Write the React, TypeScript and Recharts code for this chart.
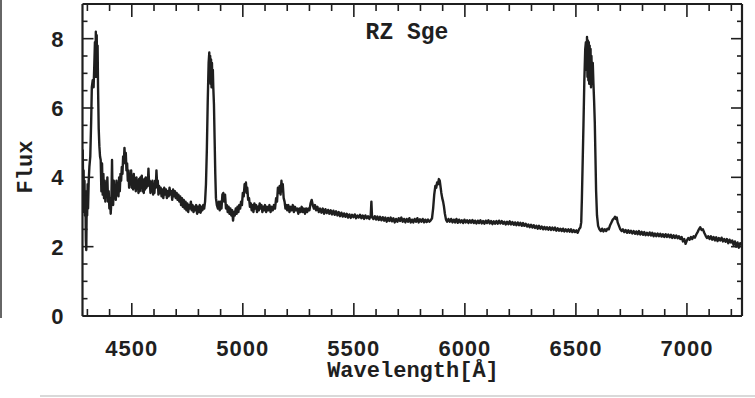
import { Line, LineChart, XAxis, YAxis } from 'recharts'

// RZ Sge optical spectrum, flux vs wavelength [Å]
const hGamma: [number, number][] = [
  [4279, 4.8], [4281, 3.7], [4283, 4.2], [4285, 3.0], [4287, 3.9], [4289, 2.9], [4291, 3.6], [4293, 2.2],
  [4295, 1.9], [4297, 3.2], [4299, 2.9], [4301, 3.8], [4303, 3.1], [4306, 3.9], [4309, 4.3], [4313, 4.6],
  [4317, 5.6], [4320, 6.6], [4324, 6.8], [4328, 6.6], [4331, 7.2], [4334, 7.9], [4336, 6.9], [4338, 8.2],
  [4340, 7.1], [4342, 8.1], [4344, 6.9], [4346, 7.8], [4348, 6.6], [4351, 5.4], [4354, 4.9], [4357, 4.6],
]

const blueContinuum: [number, number][] = [
  [4360, 4.5], [4363, 3.6], [4366, 4.4], [4369, 3.5], [4372, 4.1], [4375, 3.4], [4378, 3.9], [4381, 3.3],
  [4384, 3.8], [4387, 3.5], [4390, 4.0], [4393, 3.3], [4396, 3.6], [4399, 3.1], [4402, 3.4], [4405, 2.95],
  [4408, 3.3], [4411, 4.5], [4413, 3.6], [4416, 3.2], [4419, 3.9], [4422, 3.4], [4425, 3.7], [4428, 3.35],
  [4431, 3.9], [4434, 3.5], [4437, 3.8], [4440, 3.45], [4443, 4.0], [4446, 3.6], [4449, 4.1], [4452, 3.9],
  [4455, 4.3], [4458, 4.1], [4461, 4.6], [4464, 4.4], [4467, 4.85], [4470, 4.5], [4473, 4.7], [4476, 4.2],
  [4479, 4.4], [4482, 3.9], [4485, 4.2], [4488, 3.7], [4491, 4.1], [4494, 3.8], [4497, 4.2], [4500, 3.7],
  [4503, 4.0], [4506, 3.65], [4509, 4.1], [4512, 3.7], [4515, 3.95], [4518, 3.6], [4521, 4.0], [4524, 3.7],
  [4527, 3.9], [4530, 3.55], [4533, 3.95], [4536, 3.6], [4539, 4.0], [4542, 3.7], [4545, 4.05], [4548, 3.6],
  [4551, 3.9], [4554, 3.55], [4557, 3.95], [4560, 3.65], [4563, 4.0], [4566, 3.7], [4569, 3.9], [4572, 3.75],
  [4575, 4.25], [4578, 3.8], [4581, 3.9], [4584, 3.55], [4587, 3.85], [4590, 3.6], [4593, 3.9], [4596, 3.5],
  [4599, 3.8], [4602, 3.55], [4605, 3.9], [4608, 3.7], [4611, 4.2], [4614, 3.8], [4617, 3.9], [4620, 3.5],
  [4623, 3.75], [4626, 3.55], [4630, 3.7], [4634, 3.45], [4638, 3.65], [4642, 3.4], [4646, 3.7], [4650, 3.5],
  [4654, 3.65], [4658, 3.4], [4662, 3.6], [4666, 3.45], [4670, 3.7], [4674, 3.5], [4678, 3.6], [4682, 3.35],
  [4686, 3.65], [4690, 3.45], [4694, 3.6], [4698, 3.4], [4702, 3.55], [4706, 3.35], [4710, 3.5], [4714, 3.3],
  [4718, 3.45], [4722, 3.2], [4726, 3.4], [4730, 3.15], [4734, 3.35], [4738, 3.1], [4742, 3.3], [4746, 3.05],
  [4750, 3.25], [4754, 3.0], [4758, 3.2], [4762, 3.1], [4766, 3.3], [4770, 3.05], [4774, 3.2], [4778, 3.0],
  [4782, 3.15], [4786, 3.05], [4790, 3.2], [4794, 2.95], [4798, 3.15], [4802, 3.0], [4806, 3.2], [4810, 2.98],
  [4814, 3.15], [4818, 3.05], [4822, 3.2], [4826, 3.1],
]

const hBeta: [number, number][] = [
  [4830, 3.3], [4834, 3.8], [4838, 4.8], [4842, 6.2], [4846, 7.3], [4849, 7.6], [4851, 6.8], [4853, 7.5],
  [4855, 6.7], [4857, 7.4], [4859, 6.6], [4861, 7.3], [4863, 6.7], [4865, 7.1], [4867, 6.6], [4870, 6.1],
  [4873, 5.1], [4876, 4.1], [4879, 3.4], [4883, 3.2],
]

const greenContinuum: [number, number][] = [
  [4888, 3.1], [4892, 3.3], [4896, 3.05], [4900, 3.3], [4904, 3.1], [4908, 3.5], [4912, 3.55], [4916, 3.3],
  [4920, 3.5], [4924, 3.1], [4928, 3.2], [4932, 3.0], [4936, 3.15], [4940, 2.95], [4944, 3.1], [4948, 2.9],
  [4952, 3.05], [4956, 2.75], [4960, 3.0], [4964, 2.9], [4968, 3.1], [4972, 2.95], [4976, 3.15], [4980, 3.0],
  [4984, 3.2], [4988, 3.1], [4992, 3.3], [4996, 3.2], [5000, 3.55], [5004, 3.45], [5008, 3.8], [5011, 3.6],
  [5014, 3.85], [5017, 3.55], [5020, 3.7], [5024, 3.35], [5028, 3.4], [5032, 3.15], [5036, 3.25], [5040, 3.05],
  [5044, 3.2], [5048, 3.0], [5052, 3.25], [5056, 3.1], [5060, 3.2], [5064, 3.0], [5068, 3.15], [5072, 3.05],
  [5076, 3.25], [5080, 3.1], [5084, 3.2], [5088, 3.0], [5092, 3.15], [5096, 3.05], [5100, 3.2], [5105, 3.0],
  [5110, 3.15], [5115, 3.05], [5120, 3.2], [5125, 3.0], [5130, 3.15], [5135, 3.05], [5140, 3.2], [5145, 3.1],
  [5150, 3.4], [5154, 3.3], [5158, 3.7], [5162, 3.55], [5166, 3.75], [5170, 3.5], [5174, 3.9], [5177, 3.6],
  [5180, 3.8], [5184, 3.4], [5188, 3.3], [5192, 3.1], [5196, 3.2], [5200, 3.05], [5205, 3.2], [5210, 3.0],
  [5215, 3.15], [5220, 3.05], [5225, 3.2], [5230, 3.0], [5235, 3.15], [5240, 3.05], [5245, 3.1], [5250, 2.95],
  [5255, 3.1], [5260, 3.0], [5265, 3.15], [5270, 3.0], [5275, 3.1], [5280, 2.95], [5285, 3.1], [5290, 3.0],
  [5295, 3.1], [5300, 3.05], [5305, 3.25], [5310, 3.35], [5315, 3.2], [5320, 3.1], [5325, 3.2],
]

const yellowContinuum: [number, number][] = [
  [5330, 3.05], [5336, 3.15], [5342, 3.0], [5348, 3.1], [5354, 2.98], [5360, 3.1], [5366, 2.95], [5372, 3.08],
  [5378, 2.97], [5384, 3.06], [5390, 2.95], [5396, 3.05], [5402, 2.93], [5408, 3.04], [5414, 2.92], [5420, 3.02],
  [5426, 2.9], [5432, 3.0], [5438, 2.88], [5444, 2.98], [5450, 2.87], [5456, 2.96], [5462, 2.86], [5468, 2.95],
  [5474, 2.84], [5480, 2.93], [5486, 2.83], [5492, 2.92], [5498, 2.85], [5504, 2.93], [5510, 2.82], [5516, 2.9],
  [5522, 2.84], [5528, 2.92], [5534, 2.82], [5540, 2.9], [5546, 2.8], [5552, 2.9], [5558, 2.82], [5564, 2.88],
  [5570, 2.8], [5576, 2.9], [5579, 3.3], [5582, 2.85], [5588, 2.8], [5594, 2.88], [5600, 2.78], [5606, 2.87],
  [5612, 2.77], [5618, 2.86], [5624, 2.76], [5630, 2.85], [5636, 2.75], [5642, 2.84], [5648, 2.72], [5654, 2.83],
  [5660, 2.74], [5666, 2.84], [5672, 2.73], [5678, 2.82], [5684, 2.7], [5690, 2.8], [5696, 2.72], [5702, 2.82],
  [5708, 2.74], [5714, 2.84], [5720, 2.72], [5726, 2.8], [5732, 2.7], [5738, 2.8], [5744, 2.72], [5750, 2.82],
  [5756, 2.7], [5762, 2.78], [5768, 2.7], [5774, 2.8], [5780, 2.72], [5786, 2.82], [5792, 2.7], [5798, 2.79],
  [5804, 2.72], [5810, 2.8], [5816, 2.7], [5822, 2.78], [5828, 2.71], [5834, 2.78], [5840, 2.72], [5846, 2.76],
]

const heI5876: [number, number][] = [
  [5852, 2.82], [5857, 3.1], [5862, 3.5], [5867, 3.75], [5871, 3.7], [5875, 3.85], [5879, 3.8], [5883, 3.95],
  [5887, 3.9], [5890, 3.75], [5894, 3.55], [5898, 3.4], [5902, 3.3], [5906, 3.15], [5910, 2.95], [5915, 2.78],
  [5920, 2.72],
]

const redContinuum: [number, number][] = [
  [5926, 2.8], [5932, 2.72], [5938, 2.8], [5944, 2.7], [5950, 2.78], [5956, 2.7], [5962, 2.8], [5968, 2.69],
  [5974, 2.78], [5980, 2.7], [5986, 2.76], [5992, 2.68], [5998, 2.78], [6004, 2.7], [6010, 2.76], [6016, 2.68],
  [6022, 2.76], [6028, 2.69], [6034, 2.77], [6040, 2.68], [6046, 2.75], [6052, 2.67], [6058, 2.75], [6064, 2.68],
  [6070, 2.76], [6076, 2.67], [6082, 2.74], [6088, 2.66], [6094, 2.75], [6100, 2.68], [6106, 2.76], [6112, 2.67],
  [6118, 2.74], [6124, 2.65], [6130, 2.73], [6136, 2.66], [6142, 2.74], [6148, 2.66], [6154, 2.75], [6160, 2.67],
  [6166, 2.74], [6172, 2.66], [6178, 2.72], [6184, 2.64], [6190, 2.72], [6196, 2.65], [6202, 2.73], [6208, 2.64],
  [6214, 2.71], [6220, 2.63], [6226, 2.7], [6232, 2.62], [6238, 2.7], [6244, 2.62], [6250, 2.69], [6256, 2.6],
  [6262, 2.68], [6268, 2.6], [6274, 2.66], [6280, 2.58], [6286, 2.64], [6292, 2.56], [6298, 2.63], [6304, 2.55],
  [6310, 2.62], [6316, 2.54], [6322, 2.6], [6328, 2.52], [6334, 2.6], [6340, 2.52], [6346, 2.58], [6352, 2.5],
  [6358, 2.57], [6364, 2.5], [6370, 2.56], [6376, 2.49], [6382, 2.56], [6388, 2.48], [6394, 2.55], [6400, 2.48],
  [6406, 2.55], [6412, 2.46], [6418, 2.53], [6424, 2.46], [6430, 2.52], [6436, 2.45], [6442, 2.52], [6448, 2.44],
  [6454, 2.5], [6460, 2.44], [6466, 2.5], [6472, 2.43], [6478, 2.5], [6484, 2.42], [6490, 2.48], [6496, 2.42],
  [6502, 2.47], [6508, 2.4], [6514, 2.5],
]

const hAlpha: [number, number][] = [
  [6520, 2.55], [6524, 2.7], [6527, 3.4], [6530, 4.3], [6534, 5.5], [6538, 6.8], [6542, 7.7], [6545, 7.9],
  [6548, 7.1], [6550, 8.05], [6552, 6.9], [6554, 7.95], [6556, 6.8], [6558, 7.9], [6560, 6.7], [6562, 7.8],
  [6564, 6.7], [6566, 7.7], [6568, 6.6], [6570, 7.5], [6573, 6.7], [6576, 7.3], [6579, 6.7], [6582, 6.2],
  [6585, 5.6], [6588, 4.6], [6591, 3.6], [6595, 2.9], [6600, 2.6],
]

const farRed: [number, number][] = [
  [6606, 2.5], [6612, 2.45], [6618, 2.52], [6624, 2.44], [6630, 2.5], [6636, 2.45], [6642, 2.52], [6648, 2.5],
  [6654, 2.62], [6660, 2.7], [6666, 2.78], [6672, 2.82], [6676, 2.86], [6680, 2.8], [6684, 2.84], [6688, 2.7],
  [6694, 2.6], [6700, 2.5], [6706, 2.45], [6712, 2.5], [6718, 2.42], [6724, 2.48], [6730, 2.4], [6736, 2.47],
  [6742, 2.4], [6748, 2.46], [6754, 2.38], [6760, 2.45], [6766, 2.37], [6772, 2.44], [6778, 2.36], [6784, 2.45],
  [6790, 2.35], [6796, 2.43], [6802, 2.34], [6808, 2.42], [6814, 2.33], [6820, 2.4], [6826, 2.33], [6832, 2.41],
  [6838, 2.32], [6844, 2.4], [6850, 2.3], [6856, 2.38], [6862, 2.3], [6868, 2.38], [6874, 2.3], [6880, 2.37],
  [6886, 2.29], [6892, 2.36], [6898, 2.28], [6904, 2.36], [6910, 2.28], [6916, 2.35], [6922, 2.27], [6928, 2.34],
  [6934, 2.25], [6940, 2.33], [6946, 2.25], [6952, 2.32], [6958, 2.24], [6964, 2.3], [6970, 2.22], [6976, 2.28],
  [6982, 2.15], [6988, 2.22], [6994, 2.08], [7000, 2.18], [7006, 2.25], [7012, 2.2], [7018, 2.28], [7024, 2.22],
  [7030, 2.3], [7036, 2.26], [7042, 2.35], [7048, 2.42], [7054, 2.5], [7060, 2.56], [7066, 2.48], [7072, 2.5],
  [7078, 2.4], [7084, 2.32], [7090, 2.25], [7096, 2.3], [7102, 2.22], [7108, 2.3], [7114, 2.2], [7120, 2.28],
  [7126, 2.18], [7132, 2.27], [7138, 2.16], [7144, 2.25], [7150, 2.18], [7156, 2.26], [7162, 2.15], [7168, 2.22],
  [7174, 2.14], [7180, 2.22], [7186, 2.1], [7192, 2.2], [7198, 2.12], [7204, 2.18], [7210, 2.05], [7216, 2.15],
  [7222, 2.0], [7228, 2.12], [7234, 1.97], [7240, 2.1], [7246, 2.05],
]

const xTicks = [
  4300, 4400, 4500, 4600, 4700, 4800, 4900, 5000, 5100, 5200, 5300, 5400, 5500, 5600, 5700,
  5800, 5900, 6000, 6100, 6200, 6300, 6400, 6500, 6600, 6700, 6800, 6900, 7000, 7100, 7200,
]
const xLabels = [4500, 5000, 5500, 6000, 6500, 7000]
const yTicks = [0, 0.5, 1, 1.5, 2, 2.5, 3, 3.5, 4, 4.5, 5, 5.5, 6, 6.5, 7, 7.5, 8, 8.5]
const yLabels = [0, 2, 4, 6, 8]

const xDomain = [4278, 7248]
const yDomain = [0, 9]

const ink = '#1f1f1f'
const labelFont = '"Liberation Sans", Arial, sans-serif'
const monoFont = '"Liberation Mono", "Courier New", monospace'

const spectrum = [
  ...hGamma, ...blueContinuum, ...hBeta, ...greenContinuum, ...yellowContinuum,
  ...heI5876, ...redContinuum, ...hAlpha, ...farRed,
].map(([wl, flux]) => ({ wl, flux }))

function XTick(props: any) {
  const { x, y, payload, side } = props
  const major = xLabels.includes(payload.value)
  const len = major ? 13 : 7
  const dir = side === 'top' ? 1 : -1
  return (
    <g>
      <line x1={x} y1={y} x2={x} y2={y + dir * len} stroke={ink} strokeWidth={1.6} />
      {major && side !== 'top' ? (
        <text x={x} y={y + 40} textAnchor="middle" fill={ink} fontFamily={labelFont} fontWeight="bold" fontSize={22} letterSpacing={1}>
          {payload.value}
        </text>
      ) : null}
    </g>
  )
}

function YTick(props: any) {
  const { x, y, payload, side } = props
  const major = yLabels.includes(payload.value)
  const len = major ? 11 : 5
  const dir = side === 'right' ? -1 : 1
  return (
    <g>
      <line x1={x} y1={y} x2={x + dir * len} y2={y} stroke={ink} strokeWidth={1.6} />
      {major && side !== 'right' ? (
        <text x={x - 19} y={y + 8} textAnchor="end" fill={ink} fontFamily={labelFont} fontWeight="bold" fontSize={22}>
          {payload.value}
        </text>
      ) : null}
    </g>
  )
}

export default function App() {
  const axisLine = { stroke: ink, strokeWidth: 2.2 }
  return (
    <div style={{ position: 'absolute', left: 0, top: 0, width: 755, height: 398, background: '#fff' }}>
      <LineChart width={755} height={398} data={spectrum} margin={{ top: 3, right: 12, bottom: 81, left: 0 }}>
        <XAxis
          dataKey="wl"
          type="number"
          domain={xDomain}
          allowDataOverflow
          ticks={xTicks}
          interval={0}
          height={1}
          tickSize={0}
          tickMargin={0}
          axisLine={axisLine}
          tickLine={false}
          tick={<XTick side="bottom" />}
        />
        <XAxis
          xAxisId="top"
          orientation="top"
          dataKey="wl"
          type="number"
          domain={xDomain}
          allowDataOverflow
          ticks={xTicks}
          interval={0}
          height={1}
          tickSize={0}
          tickMargin={0}
          axisLine={axisLine}
          tickLine={false}
          tick={<XTick side="top" />}
        />
        <YAxis
          type="number"
          domain={yDomain}
          allowDataOverflow
          ticks={yTicks}
          interval={0}
          width={82.5}
          tickSize={0}
          tickMargin={0}
          axisLine={axisLine}
          tickLine={false}
          tick={<YTick side="left" />}
        />
        <YAxis
          yAxisId="right"
          orientation="right"
          type="number"
          domain={yDomain}
          allowDataOverflow
          ticks={yTicks}
          interval={0}
          width={1}
          tickSize={0}
          tickMargin={0}
          axisLine={axisLine}
          tickLine={false}
          tick={<YTick side="right" />}
        />
        <Line
          dataKey="flux"
          type="linear"
          stroke={ink}
          strokeWidth={2.4}
          strokeLinejoin="round"
          dot={false}
          activeDot={false}
          isAnimationActive={false}
        />
      </LineChart>
      <svg width={755} height={398} style={{ position: 'absolute', left: 0, top: 0, pointerEvents: 'none' }}>
        <text x={407} y={39} textAnchor="middle" fill={ink} fontFamily={monoFont} fontWeight="bold" fontSize={23}>
          RZ Sge
        </text>
        <text x={413} y={377} textAnchor="middle" fill={ink} fontFamily={monoFont} fontWeight="bold" fontSize={22}>
          Wavelength[Å]
        </text>
        <text transform="translate(32,167) rotate(-90)" textAnchor="middle" fill={ink} fontFamily={monoFont} fontWeight="bold" fontSize={22}>
          Flux
        </text>
        <line x1={1} y1={0} x2={1} y2={318} stroke="#666" strokeWidth={2} />
        <line x1={40} y1={396} x2={755} y2={396} stroke="#ccc" strokeWidth={1.5} />
      </svg>
    </div>
  )
}
